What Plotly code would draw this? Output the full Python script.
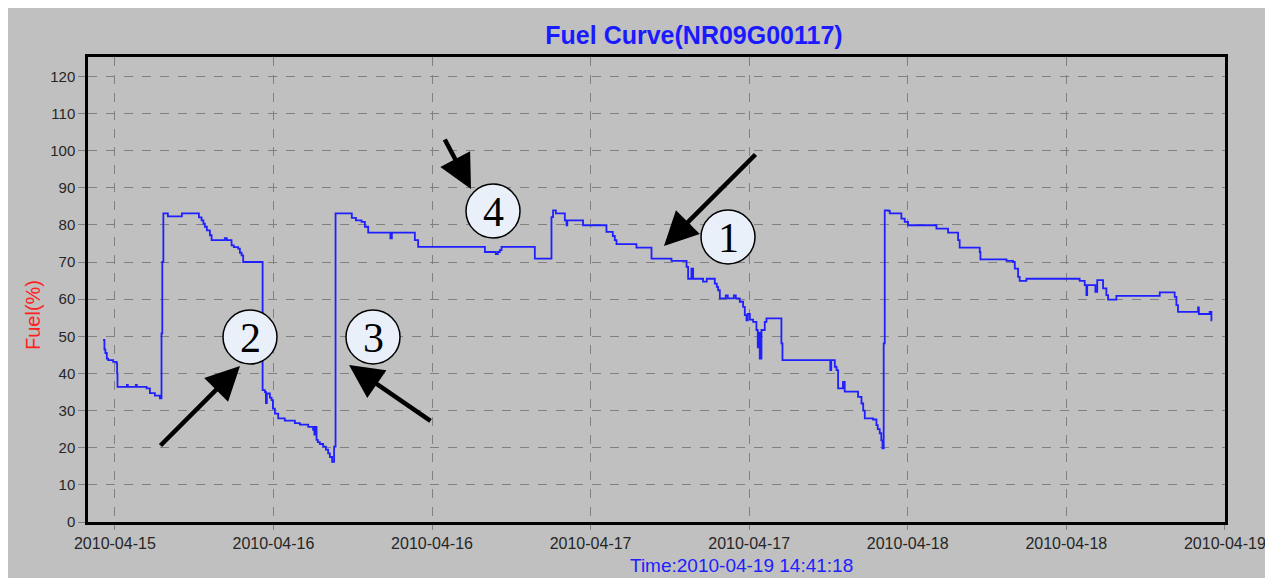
import pandas as pd
import plotly.graph_objects as go

# ---- data: readings (hours since 2010-04-15 00:00) and fuel level (%) ----
hours = [11.11, 11.21, 11.28, 11.39, 11.49, 11.87, 12.13, 12.17, 12.20, 12.91,
         12.98, 13.59, 13.66, 14.40, 14.65, 15.03, 15.41, 15.53, 15.59, 15.67,
         16.01, 17.07, 18.36, 18.56, 18.70, 18.81, 18.96, 19.19, 19.32, 20.32,
         20.47, 20.83, 21.00, 21.33, 21.46, 21.59, 21.71, 23.18, 23.35, 23.43,
         23.50, 23.73, 23.86, 23.96, 24.11, 24.36, 24.86, 25.62, 26.00, 26.63,
         27.00, 27.10, 27.13, 27.26, 27.36, 27.51, 27.76, 27.97, 28.14, 28.27,
         28.44, 28.59, 28.70, 29.93, 30.24, 30.67, 30.92, 31.17, 32.85, 32.96,
         34.70, 34.95, 40.00, 40.83, 40.98, 41.13, 41.26, 43.78, 45.04, 45.16,
         45.37, 46.05, 46.18, 46.24, 47.43, 49.20, 49.68, 49.83, 49.96, 51.47,
         52.61, 54.12, 55.26, 55.38, 55.63, 55.76, 56.51, 56.79, 57.40, 57.55,
         57.65, 57.78, 58.23, 58.38, 58.84, 58.99, 59.29, 59.54, 59.67, 59.80,
         59.89, 60.05, 60.30, 60.55, 60.65, 60.73, 60.80, 60.93, 61.18, 61.31,
         62.44, 62.52, 66.14, 66.21, 66.48, 66.61, 66.73, 67.10, 67.23, 68.24,
         68.50, 68.63, 68.75, 69.38, 69.63, 69.73, 69.88, 70.00, 70.09, 70.18,
         70.26, 70.51, 70.64, 71.52, 71.77, 72.02, 74.17, 75.05, 75.81, 75.93,
         77.45, 77.50, 79.47, 79.97, 80.10, 80.35, 80.47, 80.98, 85.01, 85.39,
         85.52, 85.58, 86.20, 86.34, 86.78, 87.03, 87.16, 87.79, 91.07, 92.20,
         92.33, 92.45, 93.97, 94.03, 94.85, 94.98, 95.04]

fuel = [49.0, 46.5, 45.5, 44.0, 43.6, 43.1, 42.7, 40.0, 36.4, 36.9,
        36.4, 36.9, 36.4, 36.0, 34.7, 34.0, 33.3, 50.8, 70.0, 83.1,
        82.3, 83.1, 82.0, 81.2, 80.3, 79.5, 78.5, 77.2, 75.9, 76.4,
        75.9, 74.5, 74.0, 73.6, 72.5, 71.8, 70.0, 35.5, 35.0, 32.0,
        34.6, 33.5, 32.8, 30.5, 29.2, 27.9, 27.3, 26.6, 26.2, 25.6,
        24.8, 23.5, 25.6, 22.1, 21.5, 21.0, 20.3, 19.5, 18.5, 17.5,
        16.2, 20.3, 83.1, 81.9, 81.2, 80.8, 79.5, 77.9, 76.4, 77.9,
        75.9, 74.1, 72.7, 72.1, 72.7, 73.2, 74.1, 70.9, 82.1, 83.9,
        83.1, 81.2, 79.9, 81.2, 79.9, 78.1, 77.0, 75.9, 74.8, 73.9,
        70.9, 70.3, 68.7, 65.5, 68.2, 65.5, 64.7, 65.5, 64.2, 63.3,
        62.4, 60.2, 61.0, 60.2, 61.0, 60.2, 59.3, 57.9, 55.7, 54.3,
        56.0, 54.5, 53.9, 51.7, 47.0, 51.0, 44.0, 51.7, 53.9, 54.8,
        48.1, 43.6, 40.9, 43.6, 41.8, 40.9, 36.0, 37.7, 35.1, 33.7,
        31.9, 30.0, 27.9, 27.6, 26.1, 25.0, 23.9, 22.0, 19.8, 48.1,
        83.9, 83.8, 83.1, 81.7, 80.8, 79.9, 79.0, 77.9, 75.9, 73.9,
        72.7, 70.7, 70.3, 70.0, 68.2, 66.0, 64.9, 65.5, 64.9, 63.8,
        61.1, 63.8, 62.0, 65.1, 62.9, 61.1, 59.9, 60.9, 61.8, 60.6,
        58.4, 56.6, 57.8, 56.0, 56.6, 54.3, 54.3]

assert len(hours) == len(fuel)

y_ticks = list(range(0, 121, 10))
title_text = "Fuel Curve(NR09G00117)"
x_title = "Time:2010-04-19 14:41:18"
y_title = "Fuel(%)"

# callouts: label, circle centre (px), arrow tail (px), arrow head (px)
callouts = [
    ("1", (728, 237), (757, 153), (664, 246)),
    ("2", (250, 337), (159, 447), (240, 366)),
    ("3", (373, 337), (432, 422), (349, 365)),
    ("4", (493, 211), (444, 138), (471, 189)),
]

times = pd.Timestamp("2010-04-15") + pd.to_timedelta(hours, unit="h")

# ---- layout geometry (pixels, page coords; page has an 8px body offset) ----
OFF = 8
W, H = 1273, 583
L, R, T, B = 88 - OFF, 1225 - OFF, 57 - OFF, 522 - OFF
PW, PH = R - L, B - T
def px(p): return (p - OFF - L) / PW
def py(p): return (B - (p - OFF)) / PH

GRAY = "#c0c0c0"
fig = go.Figure()
fig.add_trace(go.Scatter(x=times, y=fuel, mode="lines", line_shape="hv",
                         line=dict(color="#1f1fff", width=1.8),
                         showlegend=False, hoverinfo="x+y"))

shapes = [dict(type="rect", xref="paper", yref="paper", layer="below",
               x0=px(0), x1=px(1267), y0=py(578), y1=py(0),
               fillcolor=GRAY, line=dict(width=0))]
annotations = []
r = 27
for lab, (cx, cy), (tx, ty), (hx, hy) in callouts:
    annotations.append(dict(xref="paper", yref="paper", x=px(hx), y=py(hy),
                            ax=tx - hx, ay=ty - hy, text="", showarrow=True,
                            arrowhead=2, arrowsize=1.5, arrowwidth=4.5,
                            arrowcolor="black"))
    shapes.append(dict(type="circle", xref="paper", yref="paper", layer="above",
                       x0=px(cx - r), x1=px(cx + r), y0=py(cy + r), y1=py(cy - r),
                       fillcolor="#eaf0fa", line=dict(color="black", width=1.5)))
    annotations.append(dict(xref="paper", yref="paper", x=px(cx), y=py(cy + 1),
                            text=lab, showarrow=False, xanchor="center",
                            yanchor="middle",
                            font=dict(family="Liberation Serif", size=42, color="black")))

annotations.append(dict(xref="paper", yref="paper", x=px(33), y=py(315),
                        text=y_title, textangle=-90, showarrow=False,
                        xanchor="center", yanchor="middle",
                        font=dict(family="Liberation Sans", size=20, color="#ff2020")))
annotations.append(dict(xref="paper", yref="paper", x=px(741), y=py(565),
                        text=x_title, showarrow=False,
                        xanchor="center", yanchor="middle",
                        font=dict(family="Liberation Sans", size=19, color="#2020ff")))

fig.update_layout(
    width=W, height=H,
    margin=dict(l=L, r=W - R, t=T, b=H - B),
    paper_bgcolor="white", plot_bgcolor=GRAY,
    title=dict(text="<b>" + title_text + "</b>", xref="paper", x=px(694),
               xanchor="center", yref="container", y=1 - (35 - OFF) / H,
               yanchor="middle",
               font=dict(family="Liberation Sans", size=25, color="#1a1aff")),
    shapes=shapes, annotations=annotations,
    xaxis=dict(type="date",
               range=[pd.Timestamp("2010-04-15 09:58"), pd.Timestamp("2010-04-19 00:00:30")],
               tick0="2010-04-15 12:00", dtick=12 * 3600 * 1000,
               tickformat="%Y-%m-%d", showgrid=True, griddash="dash",
               gridcolor="#808080", gridwidth=1, ticks="outside", ticklen=5,
               tickcolor="#808080", showline=True, linecolor="black",
               linewidth=2.5, mirror=True, zeroline=False,
               tickfont=dict(family="Liberation Sans", size=16, color="#262626")),
    yaxis=dict(range=[0, 125.2], tickvals=y_ticks, showgrid=True, griddash="dash",
               gridcolor="#808080", gridwidth=1, ticks="outside", ticklen=7,
               tickcolor="#808080", showline=True, linecolor="black",
               linewidth=2.5, mirror=True, zeroline=False,
               tickfont=dict(family="Liberation Sans", size=15, color="#262626")),
)

fig.write_html("out.html")
